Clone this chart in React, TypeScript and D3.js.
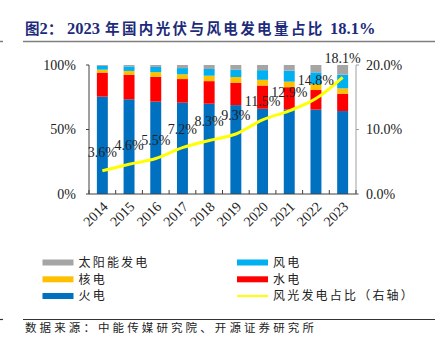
import React from 'react';
import * as d3 from 'd3';

const years = ['2014', '2015', '2016', '2017', '2018', '2019', '2020', '2021', '2022', '2023'];
const thermal = [75.5, 73.4, 71.6, 70.8, 70.0, 68.9, 66.1, 65.6, 65.4, 64.3];
const hydro = [18.6, 19.1, 19.3, 18.3, 17.5, 17.4, 18.0, 17.2, 15.2, 13.5];
const nuclear = [2.3, 2.9, 3.6, 3.7, 4.2, 4.4, 4.4, 4.3, 4.6, 4.1];
const wind = [2.9, 3.5, 4.0, 4.8, 5.2, 5.6, 7.5, 8.5, 9.1, 10.6];
const solar = [0.7, 1.1, 1.5, 2.4, 3.1, 3.7, 4.0, 4.4, 5.7, 7.5];
const share = [3.6, 4.6, 5.5, 7.2, 8.3, 9.3, 11.5, 12.9, 14.8, 18.1];
const leftTicks = [0, 50, 100];
const rightTicks = [0, 10, 20];

const seriesNames = ['火电', '水电', '核电', '风电', '太阳能发电'];
const seriesData = [thermal, hydro, nuclear, wind, solar];
const colors: Record<string, string> = {
  火电: '#0070C0',
  水电: '#FF0000',
  核电: '#FFC000',
  风电: '#00B0F0',
  太阳能发电: '#A5A5A5',
};
const lineName = '风光发电占比（右轴）';
const lineColor = '#FFFF00';

const SERIF = '"Liberation Serif", "Times New Roman", serif';
const CJK = '"Noto Sans CJK SC", sans-serif';

export default function App() {
  const left = 89, right = 356, top = 65, bottom = 194;
  const x = d3.scaleBand<string>().domain(years).range([left, right]);
  const yL = d3.scaleLinear().domain([0, 100]).range([bottom, top]);
  const yR = d3.scaleLinear().domain([0, 20]).range([bottom, top]);
  const bw = x.bandwidth() * 0.41;

  const rows = years.map((y, i) => {
    const r: any = { year: y };
    seriesNames.forEach((n, k) => (r[n] = seriesData[k][i]));
    return r;
  });
  const stacked = d3.stack<any>().keys(seriesNames)(rows);

  const line = d3
    .line<number>()
    .x((_, i) => (x(years[i]) as number) + x.bandwidth() / 2)
    .y((d) => yR(d))
    .curve(d3.curveMonotoneX);

  const legendItems = [
    { name: '太阳能发电', type: 'rect', col: 0, row: 0 },
    { name: '风电', type: 'rect', col: 1, row: 0 },
    { name: '核电', type: 'rect', col: 0, row: 1 },
    { name: '水电', type: 'rect', col: 1, row: 1 },
    { name: '火电', type: 'rect', col: 0, row: 2 },
    { name: lineName, type: 'line', col: 1, row: 2 },
  ];
  const legendX = [42.5, 237];
  const legendY = [262.5, 279.3, 296];

  const boundaries = d3.range(years.length + 1).map((i) => left + i * x.step());

  return (
    <svg
      width={445}
      height={346}
      style={{ position: 'absolute', left: 0, top: 0, background: '#fff' }}
    >
      {/* Title */}
      <text y={34} fill="#1c2b7a" fontWeight="bold">
        <tspan x={25} fontFamily={CJK} fontSize={14.5}>图</tspan>
        <tspan x={39.5} fontFamily={SERIF} fontSize={16.5}>2</tspan>
        <tspan x={48} fontFamily={CJK} fontSize={14.5}>：</tspan>
        <tspan x={67} fontFamily={SERIF} fontSize={16.5}>2023</tspan>
        <tspan x={105} fontFamily={CJK} fontSize={14.5} letterSpacing={2.4}>
          年国内光伏与风电发电量占比
        </tspan>
        <tspan x={330} fontFamily={SERIF} fontSize={16.5}>18.1%</tspan>
      </text>
      <line x1={23} x2={435} y1={41.5} y2={41.5} stroke="#7f7f7f" strokeWidth={1.5} />
      <line x1={0} x2={3} y1={41.5} y2={41.5} stroke="#7f7f7f" strokeWidth={1.5} />

      {/* Bars */}
      {stacked.map((s) => (
        <g key={s.key} fill={colors[s.key]}>
          {s.map((d, i) => (
            <rect
              key={i}
              x={(x(years[i]) as number) + (x.bandwidth() - bw) / 2}
              y={yL(d[1])}
              width={bw}
              height={yL(d[0]) - yL(d[1])}
            />
          ))}
        </g>
      ))}

      {/* Axes */}
      <line x1={left} x2={left} y1={top} y2={bottom} stroke="#404040" strokeWidth={1} />
      <line x1={right} x2={right} y1={top} y2={bottom} stroke="#a0a0a0" strokeWidth={1} />
      <line x1={left} x2={right + 2} y1={bottom} y2={bottom} stroke="#404040" strokeWidth={1} />
      {boundaries.map((b, i) => (
        <line key={i} x1={b} x2={b} y1={bottom} y2={bottom - 4} stroke="#404040" strokeWidth={1} />
      ))}
      {leftTicks.map((t) => (
        <g key={t}>
          <line x1={left - 3} x2={left} y1={yL(t)} y2={yL(t)} stroke="#404040" />
          <text
            x={76}
            y={yL(t)}
            dy="0.35em"
            textAnchor="end"
            fontFamily={SERIF}
            fontSize={14}
            fill="#222"
          >
            {t}%
          </text>
        </g>
      ))}
      {rightTicks.map((t) => (
        <g key={t}>
          <line x1={right} x2={right + 3} y1={yR(t)} y2={yR(t)} stroke="#a0a0a0" />
          <text
            x={366}
            y={yR(t)}
            dy="0.35em"
            textAnchor="start"
            fontFamily={SERIF}
            fontSize={14}
            fill="#222"
          >
            {t.toFixed(1)}%
          </text>
        </g>
      ))}
      {years.map((y) => {
        const cx = (x(y) as number) + x.bandwidth() / 2 + 3;
        return (
          <text
            key={y}
            transform={`translate(${cx},${bottom + 10}) rotate(-45)`}
            textAnchor="end"
            dy="0.35em"
            fontFamily={SERIF}
            fontSize={14}
            fill="#222"
          >
            {y}
          </text>
        );
      })}

      {/* Line */}
      <path d={line(share) || ''} fill="none" stroke={lineColor} strokeWidth={3} />
      {share.map((v, i) => (
        <text
          key={i}
          x={(x(years[i]) as number) + x.bandwidth() / 2}
          y={yR(v) - 14}
          textAnchor="middle"
          fontFamily={SERIF}
          fontSize={14}
          fill="#222"
        >
          {v.toFixed(1)}%
        </text>
      ))}

      {/* Legend */}
      {legendItems.map((it) => {
        const lx = legendX[it.col];
        const ly = legendY[it.row];
        return (
          <g key={it.name}>
            {it.type === 'rect' ? (
              <rect x={lx} y={ly - 3} width={31} height={6} fill={colors[it.name]} />
            ) : (
              <line x1={lx} x2={lx + 31} y1={ly} y2={ly} stroke={lineColor} strokeWidth={2} />
            )}
            <text
              x={lx + 36}
              y={ly}
              dy="0.36em"
              fontFamily={CJK}
              fontSize={12}
              letterSpacing={2.2}
              fill="#222"
            >
              {it.name}
            </text>
          </g>
        );
      })}

      {/* Footer */}
      <line x1={23} x2={435} y1={319.5} y2={319.5} stroke="#333" strokeWidth={1.2} />
      <line x1={0} x2={3} y1={319.5} y2={319.5} stroke="#333" strokeWidth={1.2} />
      <text x={25} y={331.5} fontFamily={CJK} fontSize={11.5} letterSpacing={3.1} fill="#222">
        数据来源：中能传媒研究院、开源证券研究所
      </text>
    </svg>
  );
}
